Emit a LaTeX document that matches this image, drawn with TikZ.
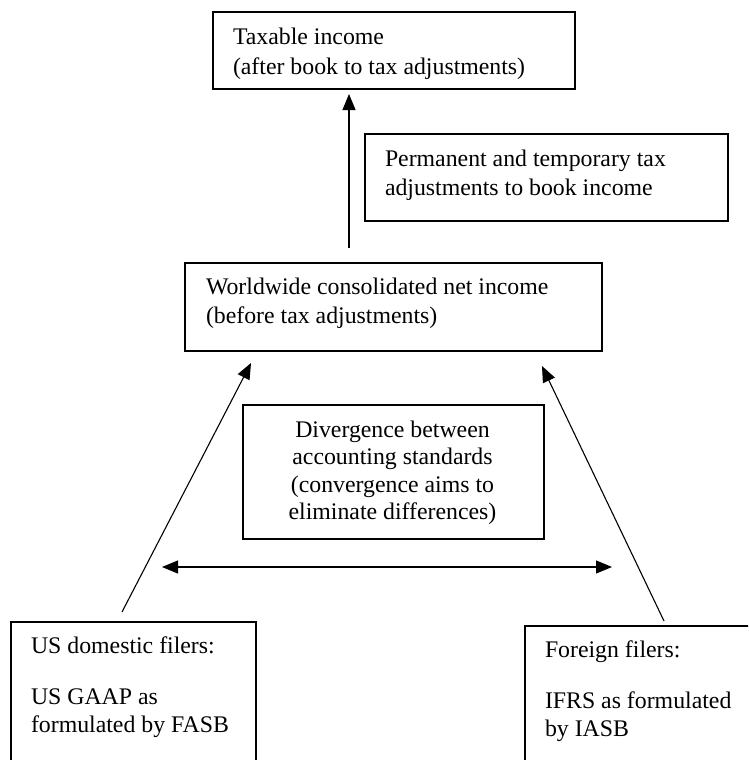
\documentclass[tikz,border=0pt]{standalone}
\usepackage{fontspec}
\setmainfont{Liberation Serif}
\usetikzlibrary{arrows.meta}
\tikzset{
  box/.style={draw, line width=1.8pt, inner sep=0pt, anchor=north west, rectangle},
  txt/.style={inner sep=0pt, outer sep=0pt, anchor=base west, font=\fontsize{23.8}{29.5}\selectfont},
  ctxt/.style={inner sep=0pt, outer sep=0pt, anchor=base, font=\fontsize{23.8}{27.5}\selectfont},
  btxt/.style={inner sep=0pt, outer sep=0pt, anchor=base west, font=\fontsize{23.8}{27.5}\selectfont},
  arr/.style={line width=1.1pt, -{Triangle[length=16pt,width=13pt]}},
  darr/.style={line width=1.1pt, {Triangle[length=16pt,width=13pt]}-{Triangle[length=16pt,width=13pt]}}
}
\begin{document}
\begin{tikzpicture}[x=1pt,y=-1pt]
\useasboundingbox (0,0) rectangle (748,760);
\clip (0,0) rectangle (748,760);
% boxes
\node[box, minimum width=362pt, minimum height=77pt] (ti) at (212,11) {};
\node[box, minimum width=363pt, minimum height=87pt] (pt) at (364,133) {};
\node[box, minimum width=417pt, minimum height=88pt] (wn) at (184,262) {};
\node[box, minimum width=301pt, minimum height=134pt] (dv) at (242,404) {};
\node[box, minimum width=245pt, minimum height=200pt] (us) at (10,621) {};
\node[box, minimum width=320pt, minimum height=200pt] (fo) at (524,625) {};
% texts
\node[txt] (ti-t) at (233,45) {\parbox[t]{340pt}{\raggedright Taxable income\\(after book to tax adjustments)}};
\node[txt] (pt-t) at (385,166) {\parbox[t]{340pt}{\raggedright Permanent and temporary tax\\adjustments to book income}};
\node[txt] (wn-t) at (206,294) {\parbox[t]{390pt}{\raggedright Worldwide consolidated net income\\(before tax adjustments)}};
\node[ctxt] (dv-t) at (392.5,437) {\parbox[t]{290pt}{\centering Divergence between\\accounting standards\\(convergence aims to\\eliminate differences)}};
\node[btxt] (us-t) at (31,653) {\parbox[t]{220pt}{\raggedright US domestic filers:\\[24pt]US GAAP as\\formulated by FASB}};
\node[btxt] (fo-t) at (545,657) {\parbox[t]{220pt}{\raggedright Foreign filers:\\[24pt]IFRS as formulated\\by IASB}};
% connector end points
\coordinate (v0) at (349,248);
\coordinate (v1) at (349,94);
\coordinate (l0) at (122,612);
\coordinate (l1) at (251,363);
\coordinate (r0) at (664,621);
\coordinate (r1) at (542,366);
\coordinate (h0) at (162,567);
\coordinate (h1) at (612,567);
% connectors
\draw[arr] (v0) -- (v1);
\draw[arr] (l0) -- (l1);
\draw[arr] (r0) -- (r1);
\draw[darr] (h0) -- (h1);
\end{tikzpicture}
\end{document}
